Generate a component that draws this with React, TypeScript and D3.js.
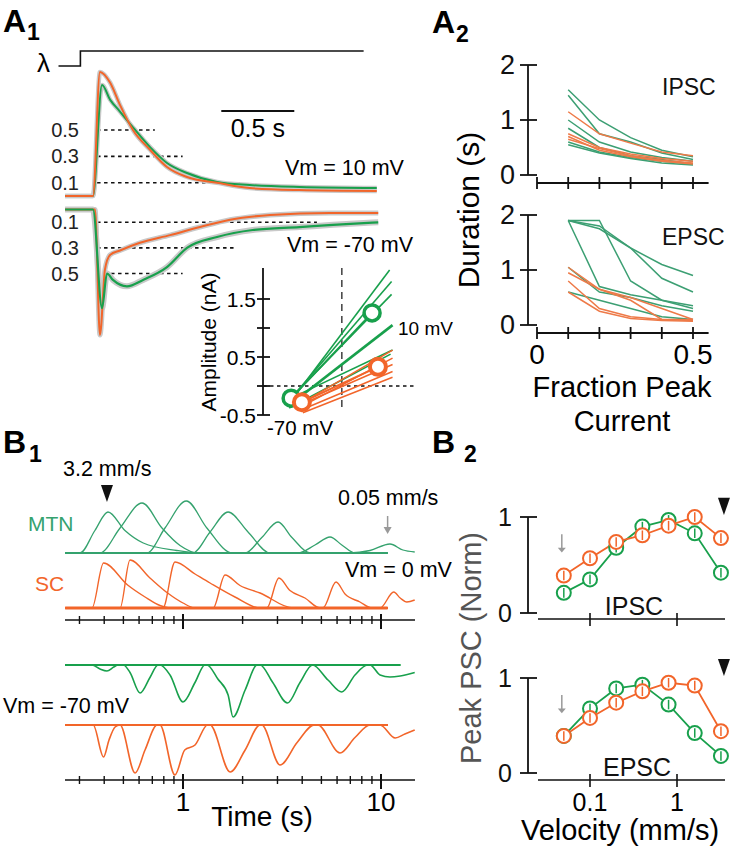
import React from 'react';
import * as d3 from 'd3';

const FF = "'Liberation Sans', Arial, Helvetica, sans-serif";
const GREEN = '#18a04c';
const ORANGE = '#f2652a';
const TEAL = '#35a26e';
const A2G = '#3c9f73';
const A2O = '#ee7a48';
const BAND = '#c9c9c9';

type P = [number, number];

// ---------- A1: averaged normalized currents (t in s, normalized amplitude) ----------
const A1_UP_GREEN: P[] = [[-0.205,0],[-0.014,0],[0.048,0.84],[0.103,0.73],[0.171,0.64],[0.26,0.52],[0.377,0.37],[0.493,0.25],[0.63,0.174],[0.836,0.106],[1.06,0.083],[1.4,0.068],[1.93,0.06]];
const A1_UP_ORANGE: P[] = [[-0.205,0],[-0.014,0],[0.034,0.94],[0.103,0.86],[0.171,0.69],[0.26,0.5],[0.377,0.35],[0.493,0.22],[0.63,0.144],[0.836,0.1],[1.06,0.06],[1.4,0.045],[1.93,0.038]];
const A1_LO_GREEN: P[] = [[-0.205,0],[-0.014,0],[0.048,-0.77],[0.082,-0.5],[0.123,-0.55],[0.219,-0.6],[0.329,-0.55],[0.493,-0.45],[0.63,-0.3],[0.836,-0.215],[1.08,-0.16],[1.4,-0.137],[1.63,-0.12],[1.94,-0.1]];
const A1_LO_ORANGE: P[] = [[-0.205,0],[0,0],[0.034,-0.98],[0.068,-0.47],[0.103,-0.355],[0.171,-0.32],[0.308,-0.26],[0.514,-0.2],[0.719,-0.137],[0.925,-0.08],[1.2,-0.043],[1.61,-0.027],[1.94,-0.027]];
const A1_LEVELS = [0.5, 0.3, 0.1];
const A1_UP_DASH_END = [0.41, 0.6, 0.99];
const A1_LO_DASH_END = [0.6, 0.95, 1.52];
const LIGHT_STEP: P[] = [[-0.25,0],[-0.1,0],[-0.1,1],[1.84,1]];

// ---------- A1 inset: I-V lines [V1, I1, V2, I2] ----------
const IV_GREEN: number[][] = [[-78,-0.3,25,2.0],[-78,-0.25,27,1.8],[-76,-0.2,27,1.58],[-77,-0.32,28,1.05],[-75,-0.2,28,0.62],[-78,-0.38,26,0.55]];
const IV_ORANGE: number[][] = [[-66,-0.3,28,0.62],[-66,-0.36,28,0.48],[-66,-0.32,28,0.37],[-64,-0.4,28,0.25],[-64,-0.46,28,0.15]];
const IV_GREEN_MEAN: P[] = [[-76,-0.21],[7,1.26]];
const IV_ORANGE_MEAN: P[] = [[-65,-0.28],[13,0.33]];
const IV_TICKS = [-0.5, 0, 0.5, 1, 1.5];
const IV_TICK_LABELS: [number,string][] = [[1.5,'1.5'],[0.5,'0.5'],[-0.5,'-0.5']];

// ---------- A2: duration vs fraction of peak ----------
const FRACTIONS = [0.1, 0.2, 0.3, 0.4, 0.5];
const IPSC_GREEN = [[1.55,1.0,0.68,0.45,0.33],[1.45,0.75,0.6,0.4,0.28],[1.0,0.6,0.42,0.32,0.25],[0.85,0.5,0.35,0.28,0.2],[0.6,0.42,0.32,0.25,0.2],[0.55,0.4,0.3,0.22,0.18]];
const IPSC_ORANGE = [[1.15,0.75,0.58,0.42,0.35],[0.75,0.5,0.38,0.3,0.25],[0.7,0.45,0.33,0.25,0.2],[0.65,0.48,0.35,0.27,0.22]];
const EPSC_GREEN = [[1.9,1.9,0.8,0.45,0.3],[1.9,1.75,1.4,1.1,0.9],[1.9,1.8,1.4,0.85,0.6],[1.9,0.7,0.55,0.45,0.35],[1.05,0.6,0.5,0.35,0.25],[0.6,0.45,0.3,0.15,0.1]];
const EPSC_ORANGE = [[1.05,0.65,0.45,0.1,0.08],[0.95,0.65,0.5,0.3,0.1],[0.8,0.3,0.15,0.1,0.1],[0.6,0.25,0.12,0.08,0.07]];

// ---------- B1: responses to moving stimuli (t in s, amplitude units) ----------
const B1_T0 = 0.254;
const MTN_V0: P[][] = [
  [[0.302,0],[0.359,0.45],[0.418,0.82],[0.509,0.45],[0.63,0.2],[0.93,0.05],[1.22,0]],
  [[0.381,0],[0.481,0.5],[0.621,1.0],[0.783,0.5],[0.966,0.15],[1.19,0]],
  [[0.658,0],[0.811,0.5],[1.04,1.04],[1.32,0.5],[1.77,0]],
  [[1.12,0],[1.37,0.42],[1.69,0.82],[2.13,0.42],[2.75,0]],
  [[2.06,0],[2.5,0.31],[3.02,0.62],[3.55,0.31],[4.38,0]],
  [[3.81,0],[4.64,0.16],[5.53,0.32],[6.34,0.16],[7.39,0]],
  [[6.97,0],[8.8,0.05],[11.1,0.18],[12.9,0.06],[14.8,0.02]],
];
const SC_V0: P[][] = [
  [[0.347,0],[0.397,0.9],[0.525,0.46],[0.643,0.22],[0.765,0.05],[0.86,0]],
  [[0.481,0],[0.54,0.96],[0.681,0.6],[0.836,0.3],[1.0,0.1],[1.15,0]],
  [[0.792,0],[0.911,0.92],[1.15,0.68],[1.37,0.5],[1.83,0.22],[2.45,0]],
  [[1.42,0],[1.63,0.66],[1.94,0.45],[2.45,0.3],[3.6,0]],
  [[2.65,0],[3.05,0.6],[3.47,0.35],[4.13,0.2],[4.92,0]],
  [[5.09,0],[5.93,0.52],[6.58,0.28],[7.83,0.12],[9.0,0]],
  [[9.89,0],[11.6,0.32],[12.5,0.2],[13.5,0.12],[14.8,0.16]],
];
const MTN_V70: P[][] = [
  [[0.347,0],[0.381,-0.08],[0.413,-0.12],[0.447,-0.04],[0.47,0]],
  [[0.5,0],[0.54,-0.15],[0.607,-0.56],[0.681,-0.25],[0.748,0]],
  [[0.765,0],[0.86,-0.2],[1.0,-0.74],[1.15,-0.35],[1.29,0]],
  [[1.32,0],[1.5,-0.28],[1.69,-0.6],[1.79,-1.04],[2.06,-0.5],[2.37,0]],
  [[2.45,0],[2.84,-0.35],[3.37,-0.76],[3.9,-0.35],[4.51,0]],
  [[4.51,0],[5.4,-0.3],[6.34,-0.54],[7.39,-0.2],[8.55,0]],
  [[8.8,0],[9.89,-0.2],[11.1,-0.24],[12.5,-0.22],[14.8,-0.15]],
];
const SC_V70: P[][] = [
  [[0.352,0],[0.397,-0.64],[0.423,-0.3],[0.454,-0.04],[0.48,0]],
  [[0.481,0],[0.573,-0.96],[0.643,-0.5],[0.74,0]],
  [[0.765,0],[0.911,-1.0],[1.02,-0.5],[1.15,-0.4],[1.33,0]],
  [[1.37,0],[1.73,-0.94],[2.06,-0.5],[2.45,0]],
  [[2.5,0],[3.09,-0.8],[3.77,-0.35],[4.6,0]],
  [[4.8,0],[6.21,-0.56],[7.39,-0.25],[8.8,0]],
  [[9.89,0],[11.8,-0.26],[13.2,-0.18],[14.8,-0.1]],
];
const FAST_PEAK_T = 0.413;
const SLOW_PEAK_T = 10.8;

// ---------- B2: normalized peak vs velocity ----------
const VELOCITIES = [0.05, 0.1, 0.2, 0.4, 0.8, 1.6, 3.2];
const B2_IPSC_GREEN = [0.21, 0.35, 0.68, 0.9, 0.97, 0.83, 0.42];
const B2_IPSC_ORANGE = [0.39, 0.57, 0.74, 0.81, 0.91, 1.0, 0.78];
const B2_EPSC_GREEN = [0.39, 0.68, 0.89, 0.93, 0.72, 0.42, 0.18];
const B2_EPSC_ORANGE = [0.39, 0.58, 0.74, 0.86, 0.95, 0.92, 0.44];
const B2_SEM = 0.05;

const T: React.FC<any> = ({ children, ...p }) => (
  <text fontFamily={FF} {...p}>{children}</text>
);

export default function App() {
  // A1 scales
  const xA1 = d3.scaleLinear().domain([0, 1]).range([95, 241]);
  const yUp = d3.scaleLinear().domain([0, 1]).range([196, 64]);
  const yLo = d3.scaleLinear().domain([0, -1]).range([209.5, 337.5]);
  const yStep = d3.scaleLinear().domain([0, 1]).range([66, 51]);
  const lUp = d3.line<P>().x(d => xA1(d[0])).y(d => yUp(d[1])).curve(d3.curveMonotoneX);
  const lLo = d3.line<P>().x(d => xA1(d[0])).y(d => yLo(d[1])).curve(d3.curveMonotoneX);
  const lStep = d3.line<P>().x(d => xA1(d[0])).y(d => yStep(d[1]));

  // inset
  const xIV = d3.scaleLinear().domain([-70, 10]).range([297, 375]);
  const yIV = d3.scaleLinear().domain([-0.5, 2]).range([415, 270]);

  // A2
  const xA2 = d3.scaleLinear().domain([0, 0.5]).range([537, 693]);
  const yA2u = d3.scaleLinear().domain([0, 2]).range([175, 65]);
  const yA2l = d3.scaleLinear().domain([0, 2]).range([325, 215]);

  // B1
  const xB1 = d3.scaleLog().domain([1, 10]).range([183, 381]);
  const B1_T1 = xB1.invert(415);
  const mkRow = (base: number) => d3.scaleLinear().domain([0, 1]).range([base, base - 50]);
  const yMTN0 = mkRow(553), ySC0 = mkRow(608), yMTN70 = mkRow(665), ySC70 = mkRow(725);
  const lineB1 = (y: d3.ScaleLinear<number, number>) =>
    d3.line<P>().x(d => xB1(d[0])).y(d => y(d[1])).curve(d3.curveMonotoneX);
  const sweep = (bump: P[], end: number): P[] => {
    const pts: P[] = [[B1_T0, 0], ...bump];
    if (bump[bump.length - 1][0] < end) pts.push([end, 0]);
    return pts;
  };

  // B2
  const xV = d3.scaleLog().domain([0.1, 1]).range([590, 677]);
  const yB2u = d3.scaleLinear().domain([0, 1]).range([613, 517]);
  const yB2l = d3.scaleLinear().domain([0, 1]).range([773, 678]);

  const b1Ticks = xB1.copy().domain([B1_T0, B1_T1]).ticks();

  const a2Panel = (y: d3.ScaleLinear<number, number>, axisY: number, greens: number[][], oranges: number[][], label: string, labelY: number) => {
    const ln = d3.line<number>().x((_, i) => xA2(FRACTIONS[i])).y(d => y(d));
    return (
      <g>
        {greens.map((s, i) => <path key={'g' + i} d={ln(s) || ''} fill="none" stroke={A2G} strokeWidth={1.5} />)}
        {oranges.map((s, i) => <path key={'o' + i} d={ln(s) || ''} fill="none" stroke={A2O} strokeWidth={1.5} />)}
        <line x1={528} x2={528} y1={y(2)} y2={y(0)} stroke="#111" strokeWidth={1.8} />
        {[0, 1, 2].map(v => (
          <g key={v}>
            <line x1={520} x2={537} y1={y(v)} y2={y(v)} stroke="#111" strokeWidth={1.8} />
            <T x={515} y={y(v) + 9} fontSize={27} textAnchor="end" fill="#111">{v}</T>
          </g>
        ))}
        <line x1={xA2(0)} x2={xA2(0.55)} y1={axisY} y2={axisY} stroke="#111" strokeWidth={1.8} />
        {[0, 0.1, 0.2, 0.3, 0.4, 0.5].map(v => (
          <line key={v} x1={xA2(v)} x2={xA2(v)} y1={axisY - 6} y2={axisY + 6} stroke="#111" strokeWidth={1.8} />
        ))}
        <T x={662} y={labelY} fontSize={23} fill="#111">{label}</T>
      </g>
    );
  };

  const b2Panel = (y: d3.ScaleLinear<number, number>, axisY: number, green: number[], orange: number[], label: string, labelX: number) => {
    const ln = d3.line<number>().x((_, i) => xV(VELOCITIES[i])).y(d => y(d));
    const marks = (vals: number[], col: string, k: string) => vals.map((v, i) => (
      <g key={k + i}>
        <circle cx={xV(VELOCITIES[i])} cy={y(v)} r={7} fill="white" stroke={col} strokeWidth={2} />
        <line x1={xV(VELOCITIES[i])} x2={xV(VELOCITIES[i])} y1={y(v + B2_SEM)} y2={y(v - B2_SEM)} stroke={col} strokeWidth={1.5} />
      </g>
    ));
    const ax = xV(0.05);
    const tx = xV(3.2) + 3;
    return (
      <g>
        <line x1={528} x2={528} y1={y(1)} y2={y(0)} stroke="#111" strokeWidth={1.8} />
        {[0, 1].map(v => (
          <g key={v}>
            <line x1={520} x2={537} y1={y(v)} y2={y(v)} stroke="#111" strokeWidth={1.8} />
            <T x={512} y={y(v) + 9} fontSize={25} textAnchor="end" fill="#111">{v}</T>
          </g>
        ))}
        <line x1={538} x2={725} y1={axisY} y2={axisY} stroke="#111" strokeWidth={1.6} />
        {[0.1, 1].map(v => (
          <line key={v} x1={xV(v)} x2={xV(v)} y1={axisY - 6} y2={axisY + 7} stroke="#111" strokeWidth={1.6} />
        ))}
        <T x={labelX} y={axisY - 4} fontSize={25} textAnchor="middle" fill="#111">{label}</T>
        <path d={ln(green) || ''} fill="none" stroke={GREEN} strokeWidth={1.8} />
        <path d={ln(orange) || ''} fill="none" stroke={ORANGE} strokeWidth={1.8} />
        {marks(green, GREEN, 'g')}
        {marks(orange, ORANGE, 'o')}
        <line x1={ax - 2} x2={ax - 2} y1={y(0.82)} y2={y(0.66)} stroke="#999" strokeWidth={1.5} />
        <polygon points={`${ax - 6},${y(0.68)} ${ax + 2},${y(0.68)} ${ax - 2},${y(0.63)}`} fill="#999" />
        <polygon points={`${tx - 6},${y(1.2)} ${tx + 6},${y(1.2)} ${tx},${y(1.02)}`} fill="#111" />
      </g>
    );
  };

  const bumpsRow = (rows: P[][], y: d3.ScaleLinear<number, number>, col: string, sw: number, end: number, k: string) =>
    rows.map((b, i) => <path key={k + i} d={lineB1(y)(sweep(b, end)) || ''} fill="none" stroke={col} strokeWidth={sw} strokeLinejoin="round" />);

  const b1Axis = (yA: number, k: string) => (
    <g key={k}>
      <line x1={65} x2={415} y1={yA} y2={yA} stroke="#111" strokeWidth={1.6} />
      {b1Ticks.map(t => {
        const major = Math.abs(Math.log10(t) - Math.round(Math.log10(t))) < 1e-6;
        return <line key={t} x1={xB1(t)} x2={xB1(t)} y1={yA - (major ? 6 : 4)} y2={yA + (major ? 9 : 4)} stroke="#111" strokeWidth={major ? 2 : 1.4} />;
      })}
    </g>
  );

  return (
    <svg width={732} height={853} style={{ position: 'absolute', left: 0, top: 0, background: 'white' }}>
      <rect width={732} height={853} fill="white" />

      {/* ===== A1 ===== */}
      <T x={3} y={32} fontSize={32} fontWeight="bold">A</T>
      <T x={27} y={40} fontSize={23} fontWeight="bold">1</T>
      <T x={37} y={72} fontSize={26}>λ</T>
      <path d={lStep(LIGHT_STEP) || ''} fill="none" stroke="#111" strokeWidth={1.6} />

      {A1_LEVELS.map((v, i) => (
        <g key={'u' + v}>
          <line x1={xA1(0.014)} x2={xA1(A1_UP_DASH_END[i])} y1={yUp(v)} y2={yUp(v)} stroke="#111" strokeWidth={1.6} strokeDasharray="3.5,3.5" />
          <T x={79} y={yUp(v) + 7} fontSize={20} textAnchor="end" fill="#222">{v.toFixed(1)}</T>
        </g>
      ))}
      {A1_LEVELS.map((v, i) => (
        <g key={'l' + v}>
          <line x1={xA1(0.014)} x2={xA1(A1_LO_DASH_END[i])} y1={yLo(-v)} y2={yLo(-v)} stroke="#111" strokeWidth={1.6} strokeDasharray="3.5,3.5" />
          <T x={79} y={yLo(-v) + 7} fontSize={20} textAnchor="end" fill="#222">{v.toFixed(1)}</T>
        </g>
      ))}

      <path d={lUp(A1_UP_GREEN) || ''} fill="none" stroke={BAND} strokeWidth={4.5} />
      <path d={lUp(A1_UP_ORANGE) || ''} fill="none" stroke={BAND} strokeWidth={4.5} />
      <path d={lUp(A1_UP_GREEN) || ''} fill="none" stroke={GREEN} strokeWidth={2} />
      <path d={lUp(A1_UP_ORANGE) || ''} fill="none" stroke={ORANGE} strokeWidth={2} />
      <path d={lLo(A1_LO_ORANGE) || ''} fill="none" stroke={BAND} strokeWidth={5} />
      <path d={lLo(A1_LO_GREEN) || ''} fill="none" stroke={BAND} strokeWidth={6} />
      <path d={lLo(A1_LO_ORANGE) || ''} fill="none" stroke={ORANGE} strokeWidth={2} />
      <path d={lLo(A1_LO_GREEN) || ''} fill="none" stroke={GREEN} strokeWidth={2.2} />

      <line x1={xA1(0.865)} x2={xA1(1.365)} y1={111} y2={111} stroke="#111" strokeWidth={2} />
      <T x={xA1(1.115)} y={137} fontSize={25} textAnchor="middle">0.5 s</T>
      <T x={285} y={175} fontSize={21.5}>Vm = 10 mV</T>
      <T x={287} y={252} fontSize={21.5}>Vm = -70 mV</T>

      {/* inset */}
      <line x1={xIV(-24)} x2={xIV(-24)} y1={268} y2={409} stroke="#222" strokeWidth={1.3} strokeDasharray="7,5" />
      <line x1={263} x2={415} y1={yIV(0)} y2={yIV(0)} stroke="#111" strokeWidth={1.6} strokeDasharray="3.5,3.5" />
      {IV_GREEN.map((l, i) => <line key={'ivg' + i} x1={xIV(l[0])} y1={yIV(l[1])} x2={xIV(l[2])} y2={yIV(l[3])} stroke={GREEN} strokeWidth={i === 3 ? 2.6 : 1.6} />)}
      {IV_ORANGE.map((l, i) => <line key={'ivo' + i} x1={xIV(l[0])} y1={yIV(l[1])} x2={xIV(l[2])} y2={yIV(l[3])} stroke={ORANGE} strokeWidth={1.5} />)}
      <line x1={xIV(IV_GREEN_MEAN[0][0])} y1={yIV(IV_GREEN_MEAN[0][1])} x2={xIV(IV_GREEN_MEAN[1][0])} y2={yIV(IV_GREEN_MEAN[1][1])} stroke={GREEN} strokeWidth={2} />
      <line x1={xIV(IV_ORANGE_MEAN[0][0])} y1={yIV(IV_ORANGE_MEAN[0][1])} x2={xIV(IV_ORANGE_MEAN[1][0])} y2={yIV(IV_ORANGE_MEAN[1][1])} stroke={ORANGE} strokeWidth={2} />
      {IV_GREEN_MEAN.map((p, i) => <circle key={'gm' + i} cx={xIV(p[0])} cy={yIV(p[1])} r={8} fill="white" stroke={GREEN} strokeWidth={3.5} />)}
      {IV_ORANGE_MEAN.map((p, i) => <circle key={'om' + i} cx={xIV(p[0])} cy={yIV(p[1])} r={8} fill="white" stroke={ORANGE} strokeWidth={4} />)}
      <line x1={263} x2={263} y1={268} y2={yIV(-0.5)} stroke="#111" strokeWidth={1.8} />
      {IV_TICKS.map(v => <line key={'ivt' + v} x1={257} x2={270} y1={yIV(v)} y2={yIV(v)} stroke="#111" strokeWidth={1.8} />)}
      {IV_TICK_LABELS.map(([v, s]) => <T key={'ivl' + s} x={256} y={yIV(v) + 7.5} fontSize={21} textAnchor="end">{s}</T>)}
      <T transform="translate(216,342) rotate(-90)" fontSize={21} textAnchor="middle">Amplitude (nA)</T>
      <T x={398} y={335} fontSize={19}>10 mV</T>
      <T x={267} y={435} fontSize={20.5}>-70 mV</T>

      {/* ===== A2 ===== */}
      <T x={432} y={33} fontSize={32} fontWeight="bold">A</T>
      <T x={456} y={42} fontSize={23} fontWeight="bold">2</T>
      {a2Panel(yA2u, 183, IPSC_GREEN, IPSC_ORANGE, 'IPSC', 95)}
      {a2Panel(yA2l, 333, EPSC_GREEN, EPSC_ORANGE, 'EPSC', 245)}
      <T x={xA2(0)} y={364} fontSize={28} textAnchor="middle">0</T>
      <T x={xA2(0.5)} y={364} fontSize={28} textAnchor="middle">0.5</T>
      <T transform="translate(479,210) rotate(-90)" fontSize={30} textAnchor="middle">Duration (s)</T>
      <T x={622} y={397} fontSize={29} textAnchor="middle">Fraction Peak</T>
      <T x={622} y={431} fontSize={29} textAnchor="middle">Current</T>

      {/* ===== B1 ===== */}
      <T x={3} y={453} fontSize={32} fontWeight="bold">B</T>
      <T x={29} y={462} fontSize={23} fontWeight="bold">1</T>
      <T x={63} y={476} fontSize={21.5}>3.2 mm/s</T>
      <polygon points={`${xB1(FAST_PEAK_T) - 6},485 ${xB1(FAST_PEAK_T) + 6},485 ${xB1(FAST_PEAK_T)},502`} fill="#111" />
      <T x={338} y={505} fontSize={21.5}>0.05 mm/s</T>
      <line x1={xB1(SLOW_PEAK_T)} x2={xB1(SLOW_PEAK_T)} y1={516} y2={528} stroke="#999" strokeWidth={1.5} />
      <polygon points={`${xB1(SLOW_PEAK_T) - 4},527 ${xB1(SLOW_PEAK_T) + 4},527 ${xB1(SLOW_PEAK_T)},534`} fill="#999" />
      <T x={28} y={531} fontSize={21} fill={TEAL}>MTN</T>
      <T x={35} y={591} fontSize={21} fill={ORANGE}>SC</T>
      <T x={345} y={577} fontSize={21.5}>Vm = 0 mV</T>
      <T x={3} y={713} fontSize={21.5}>Vm = -70 mV</T>

      {bumpsRow(MTN_V0, yMTN0, TEAL, 1.3, 10.8, 'm0')}
      <path d={lineB1(ySC0)([[B1_T0, 0], [10.8, 0]]) || ''} stroke={ORANGE} strokeWidth={3} fill="none" />
      {bumpsRow(SC_V0, ySC0, ORANGE, 1.4, 10.8, 's0')}
      {b1Axis(620, 'ax1')}
      <path d={lineB1(yMTN70)([[B1_T0, 0], [12.5, 0]]) || ''} stroke={GREEN} strokeWidth={2.2} fill="none" />
      {bumpsRow(MTN_V70, yMTN70, GREEN, 1.6, 12.5, 'm7')}
      <path d={lineB1(ySC70)([[B1_T0, 0], [10.8, 0]]) || ''} stroke={ORANGE} strokeWidth={2.2} fill="none" />
      {bumpsRow(SC_V70, ySC70, ORANGE, 1.6, 10.8, 's7')}
      {b1Axis(780, 'ax2')}
      <T x={xB1(1)} y={811} fontSize={26} textAnchor="middle">1</T>
      <T x={xB1(10)} y={811} fontSize={26} textAnchor="middle">10</T>
      <T x={262} y={826} fontSize={28} textAnchor="middle">Time (s)</T>

      {/* ===== B2 ===== */}
      <T x={432} y={453} fontSize={32} fontWeight="bold">B</T>
      <T x={464} y={462} fontSize={23} fontWeight="bold">2</T>
      {b2Panel(yB2u, 619, B2_IPSC_GREEN, B2_IPSC_ORANGE, 'IPSC', 634)}
      {b2Panel(yB2l, 780, B2_EPSC_GREEN, B2_EPSC_ORANGE, 'EPSC', 637)}
      <T x={xV(0.1)} y={811} fontSize={25} textAnchor="middle">0.1</T>
      <T x={xV(1)} y={811} fontSize={25} textAnchor="middle">1</T>
      <T x={620} y={840} fontSize={29} textAnchor="middle">Velocity (mm/s)</T>
      <T transform="translate(481,648) rotate(-90)" fontSize={29} textAnchor="middle" fill="#555">Peak PSC (Norm)</T>
    </svg>
  );
}
